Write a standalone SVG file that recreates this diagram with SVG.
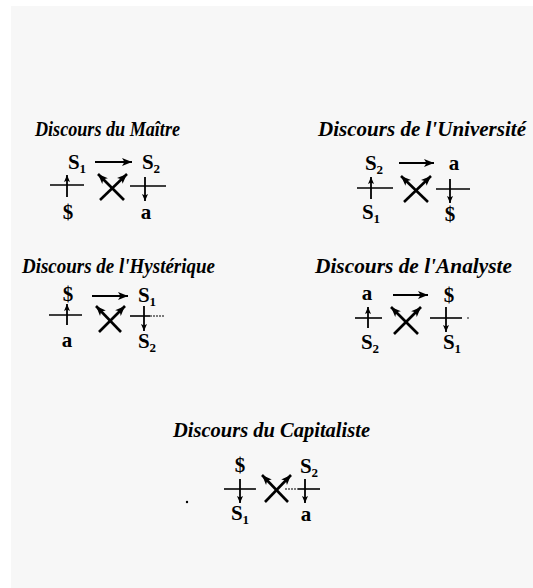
<svg xmlns="http://www.w3.org/2000/svg" width="533" height="588" viewBox="0 0 533 588">
<defs>
<marker id="ah" markerUnits="userSpaceOnUse" markerWidth="12" markerHeight="10" refX="10" refY="4.5" orient="auto">
<path d="M0,0.5 L10,4.5 L0,8.5 L2.5,4.5 z" fill="#000"/>
</marker>
<marker id="ahs" markerUnits="userSpaceOnUse" markerWidth="10" markerHeight="8" refX="7" refY="3.5" orient="auto">
<path d="M0,0.5 L7,3.5 L0,6.5 L1.5,3.5 z" fill="#000"/>
</marker>
<style>
.title{font-family:"Liberation Serif","Times New Roman",serif;font-style:italic;font-weight:bold;font-size:20px;fill:#000}
.t{font-family:"Liberation Serif","Times New Roman",serif;font-weight:bold;font-size:21px;fill:#000;text-anchor:middle}
.sub{font-size:13px}
.ln{stroke:#000;stroke-width:1.6;fill:none}
.ar{stroke:#000;stroke-width:2.2;fill:none;marker-end:url(#ah)}
.x{stroke:#000;stroke-width:2.6;fill:none;marker-end:url(#ah)}
.v{stroke:#000;stroke-width:1.8;fill:none;marker-end:url(#ahs)}
.dash{stroke:#000;stroke-width:1.2;stroke-dasharray:2 1;fill:none}
</style>
</defs>
<rect x="11" y="6" width="522" height="582" fill="#f7f7f7"/>

<g id="master">
<text class="title" x="35" y="136" textLength="145" lengthAdjust="spacingAndGlyphs">Discours du Maître</text>
<g id="m-tl"><text class="t" x="77" y="169">S<tspan class="sub" dy="4">1</tspan></text></g>
<g id="m-tr"><text class="t" x="151" y="169">S<tspan class="sub" dy="4">2</tspan></text></g>
<g id="m-bl"><text class="t" x="68" y="219">$</text></g>
<g id="m-br"><text class="t" x="146" y="219">a</text></g>
</g>

<g id="universite">
<text class="title" x="318" y="136" textLength="208" lengthAdjust="spacingAndGlyphs">Discours de l'Université</text>
<g id="u-tl"><text class="t" x="374" y="170">S<tspan class="sub" dy="4">2</tspan></text></g>
<g id="u-tr"><text class="t" x="454" y="170">a</text></g>
<g id="u-bl"><text class="t" x="371" y="219">S<tspan class="sub" dy="4">1</tspan></text></g>
<g id="u-br"><text class="t" x="450" y="221">$</text></g>
</g>

<g id="hysterique">
<text class="title" x="22" y="273" textLength="193" lengthAdjust="spacingAndGlyphs">Discours de l'Hystérique</text>
<g id="h-tl"><text class="t" x="68" y="301">$</text></g>
<g id="h-tr"><text class="t" x="147" y="302">S<tspan class="sub" dy="4">1</tspan></text></g>
<g id="h-bl"><text class="t" x="67" y="347">a</text></g>
<g id="h-br"><text class="t" x="147" y="348">S<tspan class="sub" dy="4">2</tspan></text></g>
</g>

<g id="analyste">
<text class="title" x="315" y="273" textLength="197" lengthAdjust="spacingAndGlyphs">Discours de l'Analyste</text>
<g id="a-tl"><text class="t" x="367" y="300">a</text></g>
<g id="a-tr"><text class="t" x="449" y="302">$</text></g>
<g id="a-bl"><text class="t" x="370" y="349">S<tspan class="sub" dy="4">2</tspan></text></g>
<g id="a-br"><text class="t" x="452" y="349">S<tspan class="sub" dy="4">1</tspan></text></g>
</g>

<g id="capitaliste">
<text class="title" x="173" y="437" textLength="197" lengthAdjust="spacingAndGlyphs">Discours du Capitaliste</text>
<g id="c-tl"><text class="t" x="240" y="472">$</text></g>
<g id="c-tr"><text class="t" x="309" y="473">S<tspan class="sub" dy="4">2</tspan></text></g>
<g id="c-bl"><text class="t" x="240" y="520">S<tspan class="sub" dy="4">1</tspan></text></g>
<g id="c-br"><text class="t" x="306" y="521">a</text></g>
</g>

<g id="connectors">
<!-- Master -->
<line class="ar" x1="95" y1="162" x2="132" y2="162"/>
<line class="ln" x1="50" y1="185" x2="84" y2="185"/>
<line class="v" x1="67" y1="197" x2="67" y2="175"/>
<line class="x" x1="124" y1="200" x2="98" y2="174"/>
<line class="x" x1="100" y1="200" x2="127" y2="174"/>
<line class="ln" x1="130" y1="186" x2="166" y2="186"/>
<line class="v" x1="145" y1="177" x2="145" y2="201"/>
<!-- Universite -->
<line class="ar" x1="399" y1="163" x2="434" y2="163"/>
<line class="ln" x1="357" y1="188" x2="393" y2="188"/>
<line class="v" x1="371" y1="199" x2="371" y2="177"/>
<line class="x" x1="428" y1="202" x2="401" y2="176"/>
<line class="x" x1="404" y1="202" x2="431" y2="176"/>
<line class="ln" x1="436" y1="189" x2="470" y2="189"/>
<line class="v" x1="450" y1="179" x2="450" y2="203"/>
<!-- Hysterique -->
<line class="ar" x1="92" y1="296" x2="128" y2="296"/>
<line class="ln" x1="49" y1="315" x2="82" y2="315"/>
<line class="v" x1="67" y1="325" x2="67" y2="304"/>
<line class="x" x1="121" y1="332" x2="96" y2="306"/>
<line class="x" x1="99" y1="332" x2="125" y2="306"/>
<line class="ln" x1="130" y1="316" x2="150" y2="316"/>
<line class="dash" x1="150" y1="316" x2="164" y2="316"/>
<line class="v" x1="144" y1="306" x2="144" y2="331"/>
<!-- Analyste -->
<line class="ar" x1="393" y1="295" x2="428" y2="295"/>
<line class="ln" x1="355" y1="318" x2="382" y2="318"/>
<line class="v" x1="368" y1="328" x2="368" y2="307"/>
<line class="x" x1="418" y1="334" x2="391" y2="307"/>
<line class="x" x1="394" y1="334" x2="421" y2="307"/>
<line class="ln" x1="430" y1="318" x2="462" y2="318"/>
<line class="v" x1="446" y1="307" x2="446" y2="332"/>
<circle cx="468" cy="318" r="0.8" fill="#000"/>
<!-- Capitaliste -->
<line class="ln" x1="224" y1="489" x2="256" y2="489"/>
<line class="v" x1="240" y1="479" x2="240" y2="503"/>
<line class="x" x1="288" y1="502" x2="262" y2="475"/>
<line class="x" x1="265" y1="502" x2="291" y2="475"/>
<line class="dash" x1="285" y1="489" x2="298" y2="489"/>
<line class="ln" x1="298" y1="489" x2="320" y2="489"/>
<line class="v" x1="305" y1="479" x2="305" y2="503"/>
<circle cx="187" cy="502" r="1.2" fill="#000"/>
</g>
</svg>
